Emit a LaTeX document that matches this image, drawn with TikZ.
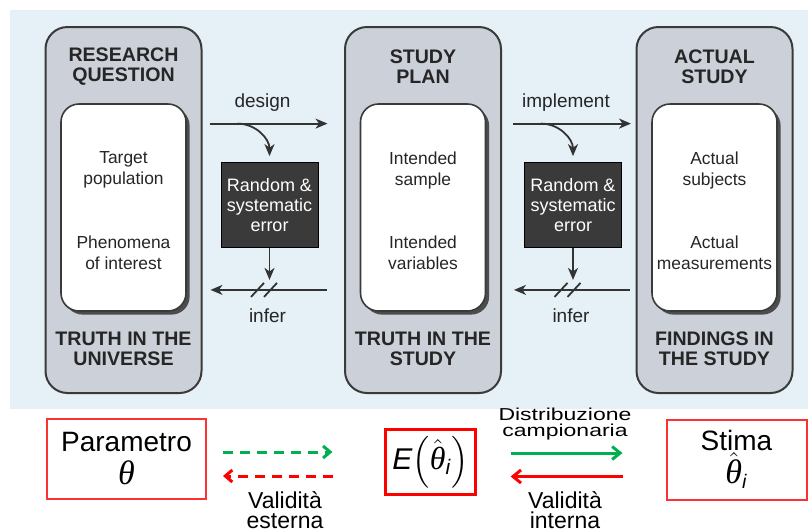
\documentclass[tikz,border=0pt]{standalone}
\usepackage{fontspec}
\setmainfont{Liberation Sans}
\newfontfamily\grk{Liberation Serif}
\usepackage{amsmath}
\usepackage{graphicx}
\usetikzlibrary{arrows.meta,positioning,calc,shadows}
\definecolor{sfondoi}{RGB}{229,241,247}
\definecolor{grigioi}{RGB}{204,208,217}
\definecolor{scuroi}{RGB}{58,58,58}
\definecolor{verdei}{RGB}{0,176,80}
\definecolor{rossoi}{RGB}{255,0,0}
\definecolor{rossoii}{RGB}{250,50,50}
\newcommand\thetaT{{\grk\itshape θ}}
\tikzset{
          stagebox/.style={rectangle,rounded corners=11pt,draw=scuroi,
            line width=1pt,fill=grigioi,minimum width=78pt,minimum height=183pt},
          innerbox/.style={rectangle,rounded corners=9pt,draw=scuroi,
            line width=0.8pt,fill=white,minimum width=62.5pt,minimum height=103.5pt,
            drop shadow={shadow xshift=1.8pt,shadow yshift=-1.8pt,fill=black!70,opacity=1}},
          title/.style={align=center,text=black!85,
            font=\fontsize{9.8}{10}\selectfont\bfseries},
          texto/.style={align=center,text=black!85,
            font=\fontsize{8.7}{10.5}\selectfont},
          errbox/.style={rectangle,draw=black,fill=scuroi,text=white,align=center,
            minimum width=48.5pt,minimum height=42.5pt,inner sep=1pt,
            font=\fontsize{9}{9.8}\selectfont},
          lbl/.style={text=black!85,font=\fontsize{9.5}{11}\selectfont},
          arr/.style={draw=black!80,line width=0.9pt,
            -{Stealth[length=6pt,width=5pt,inset=1.8pt]}},
          slash/.style={draw=black!80,line width=0.9pt},
          redbox/.style={draw=rossoii,line width=1pt,minimum width=79.5pt,
            minimum height=40pt,align=center,font=\fontsize{14}{16.5}\selectfont},
          ebox/.style={draw=rossoi,line width=1.4pt,minimum width=44.5pt,
            minimum height=29pt,font=\fontsize{15}{16}\selectfont},
          vlbl/.style={align=center,font=\fontsize{11.5}{10}\selectfont},
          vdash/.style={verdei,line width=1.5pt,dash pattern=on 5pt off 3.5pt,
            -{Straight Barb[length=3.5pt,width=6pt]}},
          rdash/.style={rossoi,line width=1.5pt,dash pattern=on 5pt off 3.5pt,
            -{Straight Barb[length=3.5pt,width=6pt]}},
          vsolid/.style={verdei,line width=1.5pt,-{Straight Barb[length=4pt,width=6.5pt]}},
          rsolid/.style={rossoi,line width=1.5pt,-{Straight Barb[length=4pt,width=6.5pt]}}
        }
\newcommand\Stage[6]{%
          \node[stagebox] (#1) at (#2,210) {};
          \node[innerbox] (#1in) at (#2,207.5) {};
          \node[title] (#1t) at (#2,67) {#3};
          \node[title] (#1b) at (#2,349) {#4};
          \node[texto] (#1a) at (#2,170) {#5};
          \node[texto] (#1c) at (#2,253) {#6};
        }
\newcommand\ErrLink[3]{%
          \node[errbox] (#1) at (#2,205) {Random \&\\systematic\\error};
          \coordinate (#1s) at ($(#1.north)+(-60,-38.5)$);
          \coordinate (#1e) at ($(#1.north)+(58,-38.5)$);
          \coordinate (#1c) at ($(#1.north)+(-32,-38.5)$);
          \coordinate (#1r) at ($(#1.south)+(57,42)$);
          \coordinate (#1l) at ($(#1.south)+(-59,42)$);
          \coordinate (#1k) at ($(#1.south)+(0,32)$);
          \coordinate (#1x) at ($(#1.south)+(-5.5,42)$);
          \node[lbl,anchor=base] (#1up) at ($(#1.north)+(-7,-55)$) {#3};
          \node[lbl,anchor=base] (#1dn) at ($(#1.south)+(-2,75)$) {infer};
          \draw[arr] (#1s) -- (#1e);
          \draw[arr] (#1c) to[out=0,in=90] ([yshift=3pt]#1.north);
          \draw[arr] (#1.south) -- (#1k);
          \draw[arr] (#1r) -- (#1l);
          \draw[slash] ($(#1x)+(-13,7)$) -- ($(#1x)+(0,-7)$);
          \draw[slash] ($(#1x)+(0,7)$) -- ($(#1x)+(13,-7)$);
        }
\begin{document}
\begin{tikzpicture}[x=0.5pt,y=-0.5pt]
            \useasboundingbox (0,0) rectangle (808,531);
            \fill[sfondoi] (10,10) rectangle (808,409);

            % the three stages
            \Stage{rq}{123.5}{RESEARCH\\QUESTION}{TRUTH IN THE\\UNIVERSE}
              {Target\\population}{Phenomena\\of interest}
            \Stage{sp}{423}{STUDY\\PLAN}{TRUTH IN THE\\STUDY}
              {Intended\\sample}{Intended\\variables}
            \Stage{as}{714.5}{ACTUAL\\STUDY}{FINDINGS IN\\THE STUDY}
              {Actual\\subjects}{Actual\\measurements}

            \ErrLink{erra}{269.5}{design}
            \ErrLink{errb}{573}{implement}

            % bottom row
            \node[redbox] (par) at (126.5,459)
              {Parametro\\{\fontsize{17}{17}\selectfont\thetaT}};
            \node[ebox] (eth) at (430.5,462)
              {\textit{E}$\left(\hat{\text{\fontsize{16}{16}\selectfont\thetaT}}_{\text{\itshape i}}\right)$};
            \node[redbox,minimum width=70pt] (sti) at (736.5,459.5)
              {Stima\\$\hat{\text{\fontsize{17}{17}\selectfont\thetaT}}_{\text{\itshape i}}$};

            \draw[vdash,shorten <=8pt,shorten >=26pt]
              ($(par.east)+(0,-7)$) -- ($(eth.west|-par.east)+(0,-7)$);
            \draw[rdash,shorten <=25.5pt,shorten >=8pt]
              ($(eth.west|-par.east)+(0,17)$) -- ($(par.east)+(0,17)$);
            \draw[vsolid,shorten <=17pt,shorten >=21.5pt]
              ($(eth.east|-sti.west)+(0,-6.5)$) -- ($(sti.west)+(0,-6.5)$);
            \draw[rsolid,shorten <=21.5pt,shorten >=17pt]
              ($(sti.west)+(0,17)$) -- ($(eth.east|-sti.west)+(0,17)$);

            \node[vlbl] (dist) at (565,424) {\scalebox{1}[0.75]{\def\arraystretch{0.78}%
              \begin{tabular}{@{}c@{}}Distribuzione\\campionaria\end{tabular}}};
            \node[vlbl] (vest) at (285,510) {Validità\\esterna};
            \node[vlbl] (vint) at (565,510) {Validità\\interna};

\end{tikzpicture}
\end{document}
